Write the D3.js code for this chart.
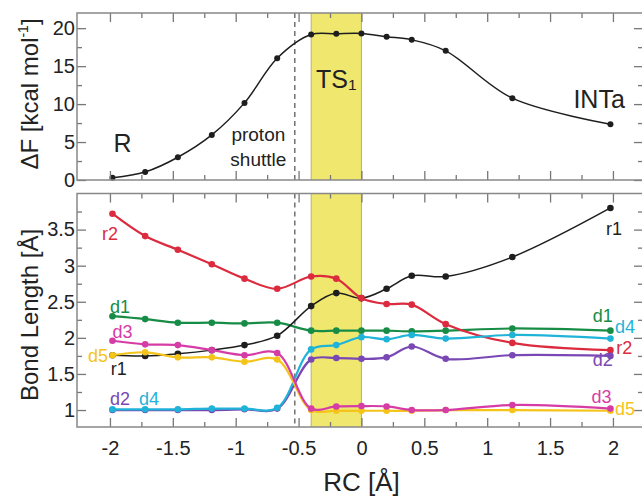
<!DOCTYPE html>
<html>
<head>
<meta charset="utf-8">
<script src="https://cdn.jsdelivr.net/npm/d3@7"></script>
<style>
  body { margin: 0; background: #fff; }
  text { font-family: "Liberation Sans", Arial, sans-serif; fill: #222; }
</style>
</head>
<body>
<div id="chart"></div>
<script>
// reaction coordinate of every sampled window
const RC = [-1.98, -1.72, -1.46, -1.19, -0.93, -0.67, -0.40, -0.20, 0.00, 0.20, 0.40, 0.67, 1.20, 1.98];

// free energy profile (kcal/mol)
const DF = [0.3, 1.06, 3.0, 5.94, 10.16, 16.05, 19.17, 19.26, 19.3, 18.87, 18.47, 17.02, 10.78, 7.35];

// bond lengths (Angstrom)
const R1 = [1.76, 1.75, 1.78, 1.83, 1.90, 2.03, 2.44, 2.62, 2.55, 2.68, 2.86, 2.85, 3.12, 3.80];
const R2 = [3.72, 3.41, 3.22, 3.02, 2.82, 2.68, 2.85, 2.82, 2.55, 2.47, 2.46, 2.19, 1.93, 1.83];
const D1 = [2.30, 2.26, 2.21, 2.21, 2.20, 2.21, 2.10, 2.10, 2.10, 2.10, 2.09, 2.10, 2.13, 2.10];
const D2 = [1.00, 1.00, 1.00, 1.00, 1.01, 1.02, 1.70, 1.72, 1.71, 1.73, 1.88, 1.71, 1.76, 1.75];
const D3 = [1.96, 1.91, 1.90, 1.83, 1.76, 1.79, 1.02, 1.05, 1.055, 1.05, 1.00, 1.00, 1.07, 1.02];
const D4 = [1.01, 1.01, 1.01, 1.02, 1.02, 1.03, 1.84, 1.90, 2.01, 1.98, 2.04, 1.99, 2.04, 1.99];
const D5 = [1.76, 1.80, 1.73, 1.73, 1.67, 1.70, 1.00, 0.99, 0.99, 0.99, 0.99, 1.00, 1.00, 0.99];

// transition state window and proton shuttle marker
const TS_RANGE = [-0.40, 0.00];
const SHUTTLE_RC = -0.53;

// ticks
const X_MAJOR = [-2, -1.5, -1, -0.5, 0, 0.5, 1, 1.5, 2];
const X_MINOR = [-1.75, -1.25, -0.75, -0.25, 0.25, 0.75, 1.25, 1.75];
const DF_MAJOR = [0, 5, 10, 15, 20];
const DF_MINOR = [2.5, 7.5, 12.5, 17.5];
const BL_MAJOR = [1, 1.5, 2, 2.5, 3, 3.5];
const BL_MINOR = [1.25, 1.75, 2.25, 2.75, 3.25, 3.75];

// labels placed in data units
const TOP_NOTES = [
  {text: "R", rc: -1.90, v: 3.7, size: 25},
  {text: "proton", rc: -0.82, v: 5.15, size: 19},
  {text: "shuttle", rc: -0.82, v: 1.85, size: 19},
  {text: "TS", sub: "1", rc: -0.20, v: 12.1, size: 25},
  {text: "INTa", rc: 1.89, v: 9.5, size: 25}
];
const BOTTOM_NOTES = [
  {text: "r2", key: "r2", rc: -2.00, v: 3.36},
  {text: "d1", key: "d1", rc: -1.92, v: 2.35},
  {text: "d3", key: "d3", rc: -1.90, v: 2.00},
  {text: "d5", key: "d5", rc: -2.095, v: 1.667},
  {text: "r1", key: "r1", rc: -1.93, v: 1.486},
  {text: "d2", key: "d2", rc: -1.92, v: 1.07},
  {text: "d4", key: "d4", rc: -1.69, v: 1.07},
  {text: "r1", key: "r1", rc: 2.008, v: 3.43},
  {text: "d1", key: "d1", rc: 1.92, v: 2.22},
  {text: "d4", key: "d4", rc: 2.095, v: 2.065},
  {text: "r2", key: "r2", rc: 2.09, v: 1.77},
  {text: "d2", key: "d2", rc: 1.92, v: 1.61},
  {text: "d3", key: "d3", rc: 1.91, v: 1.10},
  {text: "d5", key: "d5", rc: 2.095, v: 0.93}
];

const COLORS = {
  r1: "#1e1e1e", r2: "#dc2a3e", d1: "#178c46", d2: "#7a48b4",
  d3: "#d63ca6", d4: "#1fb3d8", d5: "#f5c41a"
};

// drawing order, back to front
const SERIES = [
  {key: "d1", values: D1},
  {key: "r1", values: R1},
  {key: "r2", values: R2},
  {key: "d2", values: D2},
  {key: "d4", values: D4},
  {key: "d5", values: D5},
  {key: "d3", values: D3}
];

// layout
const WIDTH = 642, HEIGHT = 496;
const LEFT = 77, PLOT_W = 566;
const TOP1 = 13, H1 = 167;
const TOP2 = 193.5, H2 = 233.5;

const svg = d3.select("#chart").append("svg")
  .attr("width", WIDTH).attr("height", HEIGHT);

const x = d3.scaleLinear().domain([-2.262, 2.239]).range([0, PLOT_W]);
const y1 = d3.scaleLinear().domain([0, 22]).range([H1, 0]);
const y2 = d3.scaleLinear().domain([0.765, 4.0]).range([H2, 0]);

const P1 = svg.append("g").attr("transform", `translate(${LEFT},${TOP1})`);
const P2 = svg.append("g").attr("transform", `translate(${LEFT},${TOP2})`);

function backdrop(g, h) {
  g.append("rect")
    .attr("x", x(TS_RANGE[0])).attr("y", 0)
    .attr("width", x(TS_RANGE[1]) - x(TS_RANGE[0])).attr("height", h)
    .attr("fill", "#efe76e");
  TS_RANGE.forEach(v => {
    g.append("line")
      .attr("x1", x(v)).attr("x2", x(v)).attr("y1", 0).attr("y2", h)
      .attr("stroke", "#a8a25a").attr("stroke-width", 0.8);
  });
  g.append("line")
    .attr("x1", x(SHUTTLE_RC)).attr("x2", x(SHUTTLE_RC))
    .attr("y1", 0).attr("y2", h)
    .attr("stroke", "#666").attr("stroke-width", 1.4)
    .attr("stroke-dasharray", "5,4");
}

function axes(g, y, h, yMajor, yMinor, xLabels) {
  const style = sel => {
    sel.select(".domain").remove();
    sel.selectAll(".tick line").attr("stroke", "#777").attr("stroke-width", 1.3);
    sel.selectAll(".tick text").attr("font-size", 20).attr("fill", "#222")
      .attr("font-family", "Liberation Sans, Arial, sans-serif");
  };
  const blank = () => "";

  // major and minor ticks on all four sides, pointing in
  g.append("g").attr("transform", `translate(0,${h})`)
    .call(d3.axisBottom(x).tickValues(X_MAJOR).tickSize(-9).tickSizeOuter(0)
      .tickPadding(14).tickFormat(xLabels ? d => String(d) : blank)).call(style);
  g.append("g").attr("transform", `translate(0,${h})`)
    .call(d3.axisBottom(x).tickValues(X_MINOR).tickSize(-5).tickSizeOuter(0).tickFormat(blank)).call(style);
  g.append("g")
    .call(d3.axisTop(x).tickValues(X_MAJOR).tickSize(-9).tickSizeOuter(0).tickFormat(blank)).call(style);
  g.append("g")
    .call(d3.axisTop(x).tickValues(X_MINOR).tickSize(-5).tickSizeOuter(0).tickFormat(blank)).call(style);

  g.append("g")
    .call(d3.axisLeft(y).tickValues(yMajor).tickSize(-9).tickSizeOuter(0)
      .tickPadding(2).tickFormat(d => String(d))).call(style);
  g.append("g")
    .call(d3.axisLeft(y).tickValues(yMinor).tickSize(-5).tickSizeOuter(0).tickFormat(blank)).call(style);
  g.append("g").attr("transform", `translate(${PLOT_W},0)`)
    .call(d3.axisRight(y).tickValues(yMajor).tickSize(-9).tickSizeOuter(0).tickFormat(blank)).call(style);
  g.append("g").attr("transform", `translate(${PLOT_W},0)`)
    .call(d3.axisRight(y).tickValues(yMinor).tickSize(-5).tickSizeOuter(0).tickFormat(blank)).call(style);

  g.append("rect")
    .attr("width", PLOT_W).attr("height", h)
    .attr("fill", "none").attr("stroke", "#888").attr("stroke-width", 1.5);
}

function series(g, y, values, color, width, r) {
  const line = d3.line()
    .x((d, i) => x(RC[i]))
    .y(d => y(d))
    .curve(d3.curveCatmullRom.alpha(0.5));
  g.append("path")
    .datum(values)
    .attr("d", line)
    .attr("fill", "none")
    .attr("stroke", color)
    .attr("stroke-width", width);
  g.append("g").selectAll("circle")
    .data(values)
    .enter()
    .append("circle")
    .attr("cx", (d, i) => x(RC[i]))
    .attr("cy", d => y(d))
    .attr("r", r)
    .attr("fill", color);
}

// ---- top panel: free energy
backdrop(P1, H1);
series(P1, y1, DF, "#1e1e1e", 1.5, 3);
axes(P1, y1, H1, DF_MAJOR, DF_MINOR, false);

TOP_NOTES.forEach(n => {
  const t = P1.append("text")
    .attr("x", x(n.rc)).attr("y", y1(n.v))
    .attr("text-anchor", "middle")
    .attr("font-size", n.size)
    .text(n.text);
  if (n.sub) {
    t.append("tspan").attr("font-size", n.size * 0.62).attr("dy", 2).text(n.sub);
  }
});

// ---- bottom panel: bond lengths
backdrop(P2, H2);
SERIES.forEach(s => {
  series(P2, y2, s.values, COLORS[s.key], s.key === "r1" ? 1.5 : 2.2, 3.3);
});
axes(P2, y2, H2, BL_MAJOR, BL_MINOR, true);

BOTTOM_NOTES.forEach(n => {
  P2.append("text")
    .attr("x", x(n.rc)).attr("y", y2(n.v))
    .attr("text-anchor", "middle")
    .attr("font-size", 18)
    .style("fill", COLORS[n.key])
    .text(n.text);
});

// ---- axis titles
const t1 = svg.append("text")
  .attr("transform", "translate(38,94) rotate(-90)")
  .attr("text-anchor", "middle")
  .attr("font-size", 24)
  .text("\u0394F [kcal mol");
t1.append("tspan").attr("font-size", 14).attr("dy", -10).text("-1");
t1.append("tspan").attr("dy", 10).text("]");

svg.append("text")
  .attr("transform", "translate(38,315) rotate(-90)")
  .attr("text-anchor", "middle")
  .attr("font-size", 24)
  .text("Bond Length [\u00c5]");

svg.append("text")
  .attr("x", LEFT + x(0)).attr("y", 491)
  .attr("text-anchor", "middle")
  .attr("font-size", 26)
  .text("RC [\u00c5]");
</script>
</body>
</html>
